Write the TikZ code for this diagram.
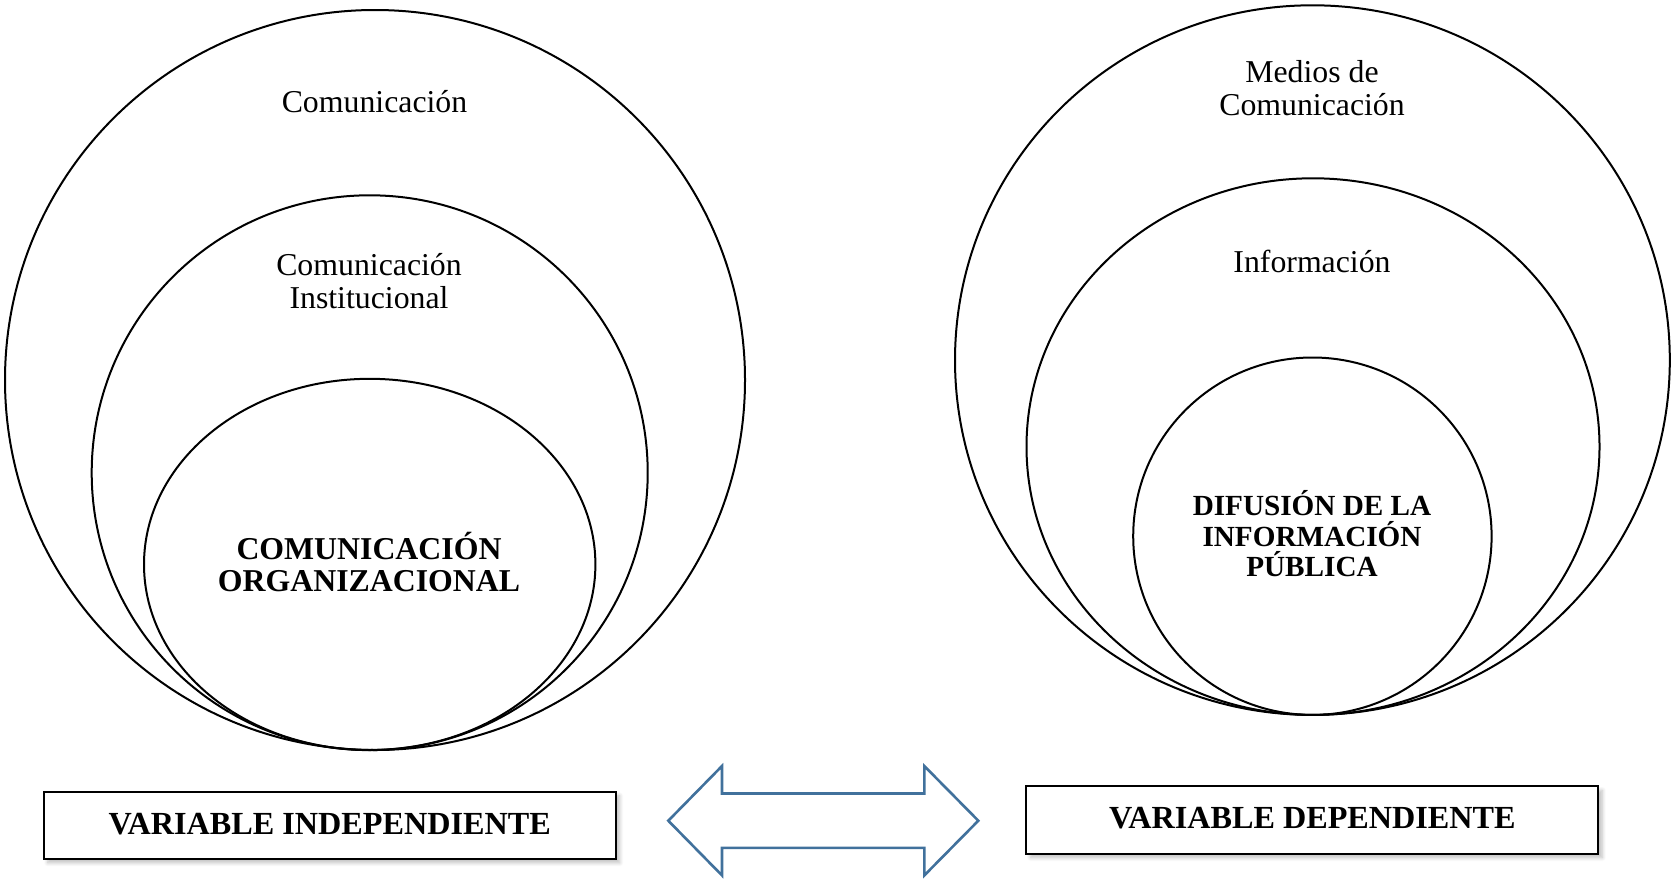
\documentclass[tikz,border=0pt]{standalone}
\usepackage{fontspec}
\setmainfont{Liberation Serif}
\usetikzlibrary{positioning, shadows.blur}
\definecolor{arrowblue}{HTML}{41719C}

\begin{document}
\begin{tikzpicture}[x=0.5pt, y=-0.5pt,
    ring/.style={line width=1pt},
    lbl/.style={font=\fontsize{15.9}{16.5}\selectfont, align=center, inner sep=0pt},
    core/.style={lbl, font=\fontsize{15.9}{15.6}\selectfont\bfseries},
    varbox/.style={draw, line width=1pt, fill=white, minimum width=286pt, minimum height=33.6pt,
        font=\fontsize{16.1}{16.5}\selectfont\bfseries, text height=10.7pt, text depth=2pt,
        blur shadow={shadow xshift=2pt, shadow yshift=-2pt, shadow opacity=25, shadow blur steps=8}}]
    \useasboundingbox (0,0) rectangle (1673,878);
    % left circles
    \draw[ring] (375,380) ellipse [x radius=370, y radius=370];
    \draw[ring] (369.7,472.7) ellipse [x radius=278, y radius=277.4];
    \draw[ring] (369.7,564.4) ellipse [x radius=225.7, y radius=185.6];
    \node[lbl] (comm) at (374.5,102) {Comunicación};
    \node[lbl] (inst) at (369,281) {Comunicación\\Institucional};
    \node[core] (orgcom) at (369,562) {COMUNICACIÓN\\ORGANIZACIONAL};
    % right circles
    \draw[ring] (1312.4,360.1) ellipse [x radius=357.4, y radius=354.8];
    \draw[ring] (1313,446.6) ellipse [x radius=286.5, y radius=268.3];
    \draw[ring] (1312.4,536.2) ellipse [x radius=179.2, y radius=178.7];
    \node[lbl] (medios) at (1312,88) {Medios de\\Comunicación};
    \node[lbl] (info) at (1312,261) {Información};
    \node[core, font=\fontsize{14.6}{15.2}\selectfont\bfseries] (difusion) at (1312,534) {DIFUSIÓN DE LA\\INFORMACIÓN\\PÚBLICA};
    % variable boxes
    \node[varbox] (indep) at (329.7,825.3) {VARIABLE INDEPENDIENTE};
    \node[varbox] (dep) at (1312.4,820) {VARIABLE DEPENDIENTE};
    % double arrow
    \draw[arrowblue, line width=1.3pt, line join=miter]
        (668.3,820.7) -- (722,766) -- (722,793.5) -- (924.3,793.5) -- (924.3,766)
        -- (978.3,820.7) -- (924.3,875.4) -- (924.3,847.8) -- (722,847.8) -- (722,875.4) -- cycle;
\end{tikzpicture}
\end{document}
